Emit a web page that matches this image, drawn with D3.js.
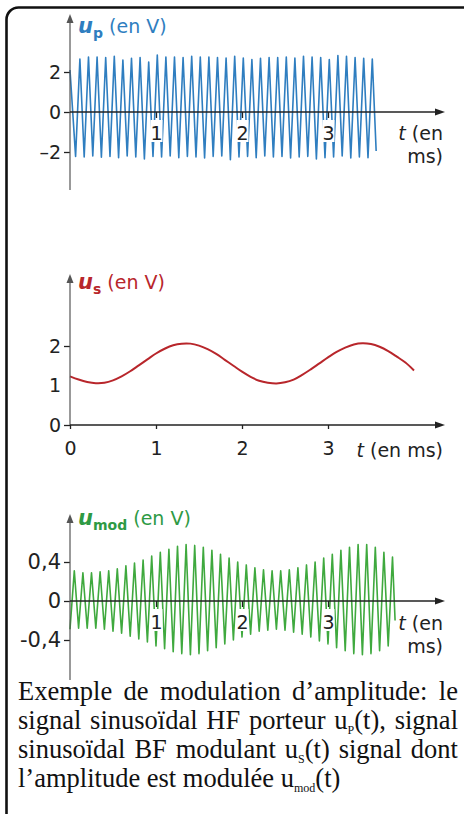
<!DOCTYPE html>
<html>
<head>
<meta charset="utf-8">
<script src="https://cdn.jsdelivr.net/npm/d3@7"></script>
<style>
    body { margin: 0; background: #fff; }
    svg { display: block; }
</style>
</head>
<body>
<svg id="chart" width="464" height="814"></svg>
<script>
/**
 * Tick values on the shared time axis (ms)
 */
const timeTicks = [1, 2, 3];
const timeTicksWithZero = [0, 1, 2, 3];

/**
 * y ticks for each panel
 */
const upTicks = [-2, 0, 2];
const usTicks = [0, 1, 2];
const modTicks = [-0.4, 0, 0.4];

/**
 * u_p : HF carrier, zigzag vertices (t in ms, V)
 */
const upTimes = [0,
    0.065, 0.115, 0.165, 0.215, 0.265, 0.315, 0.365, 0.415, 0.465, 0.515,
    0.565, 0.615, 0.665, 0.715, 0.765, 0.815, 0.865, 0.915, 0.965, 1.015,
    1.065, 1.115, 1.165, 1.215, 1.265, 1.315, 1.365, 1.415, 1.465, 1.515,
    1.565, 1.615, 1.665, 1.715, 1.765, 1.815, 1.865, 1.915, 1.965, 2.015,
    2.065, 2.115, 2.165, 2.215, 2.265, 2.315, 2.365, 2.415, 2.465, 2.515,
    2.565, 2.615, 2.665, 2.715, 2.765, 2.815, 2.865, 2.915, 2.965, 3.015,
    3.065, 3.115, 3.165, 3.215, 3.265, 3.315, 3.365, 3.415, 3.465, 3.515,
    3.56];
const upValues = [2.1,
    -2.22, 2.65, -2.25, 2.75, -2.2, 2.75, -2.26, 2.72, -2.22, 2.78,
    -2.28, 2.6, -2.2, 2.68, -2.25, 2.72, -2.35, 2.5, -2.22, 2.85,
    -2.25, 2.75, -2.2, 2.75, -2.28, 2.72, -2.22, 2.78, -2.25, 2.75,
    -2.3, 2.75, -2.22, 2.72, -2.2, 2.7, -2.38, 2.78, -2.25, 2.7,
    -2.22, 2.62, -2.28, 2.68, -2.2, 2.72, -2.25, 2.72, -2.22, 2.75,
    -2.3, 2.7, -2.25, 2.78, -2.22, 2.75, -2.35, 2.72, -2.28, 2.62,
    -2.25, 2.82, -2.2, 2.78, -2.3, 2.72, -2.25, 2.68, -2.28, 2.65,
    -1.95];

/**
 * u_s : BF modulating signal, sampled every 0.1 ms
 */
const usTimes = [0, 0.1, 0.2, 0.3, 0.4, 0.5, 0.6, 0.7, 0.8, 0.9,
    1, 1.1, 1.2, 1.3, 1.4, 1.5, 1.6, 1.7, 1.8, 1.9,
    2, 2.1, 2.2, 2.3, 2.4, 2.5, 2.6, 2.7, 2.8, 2.9,
    3, 3.1, 3.2, 3.3, 3.4, 3.5, 3.6, 3.7, 3.8, 3.9, 4];
const usValues = [1.23, 1.15, 1.09, 1.06, 1.07, 1.13, 1.23, 1.36, 1.51, 1.66,
    1.81, 1.93, 2.02, 2.06, 2.06, 2.01, 1.92, 1.80, 1.65, 1.50,
    1.35, 1.22, 1.12, 1.07, 1.05, 1.08, 1.15, 1.27, 1.41, 1.56,
    1.71, 1.85, 1.96, 2.04, 2.07, 2.05, 1.98, 1.87, 1.73, 1.58, 1.38];

/**
 * u_mod : amplitude modulated signal, zigzag vertices
 */
const modTimes = [0, 0.05, 0.1, 0.15, 0.2, 0.25, 0.3, 0.35, 0.4, 0.45,
    0.5, 0.55, 0.6, 0.65, 0.7, 0.75, 0.8, 0.85, 0.9, 0.95,
    1, 1.05, 1.1, 1.15, 1.2, 1.25, 1.3, 1.35, 1.4, 1.45,
    1.5, 1.55, 1.6, 1.65, 1.7, 1.75, 1.8, 1.85, 1.9, 1.95,
    2, 2.05, 2.1, 2.15, 2.2, 2.25, 2.3, 2.35, 2.4, 2.45,
    2.5, 2.55, 2.6, 2.65, 2.7, 2.75, 2.8, 2.85, 2.9, 2.95,
    3, 3.05, 3.1, 3.15, 3.2, 3.25, 3.3, 3.35, 3.4, 3.45,
    3.5, 3.55, 3.6, 3.65, 3.7, 3.75, 3.78];
const modValues = [-0.29,
    0.31, -0.28, 0.29, -0.28, 0.29, -0.28, 0.30, -0.29, 0.31, -0.31,
    0.33, -0.33, 0.36, -0.36, 0.39, -0.39, 0.42, -0.42, 0.46, -0.46,
    0.50, -0.49, 0.53, -0.52, 0.56, -0.54, 0.58, -0.55, 0.57, -0.54,
    0.55, -0.51, 0.52, -0.48, 0.48, -0.44, 0.44, -0.40, 0.40, -0.37,
    0.37, -0.34, 0.34, -0.31, 0.32, -0.30, 0.31, -0.29, 0.31, -0.30,
    0.32, -0.32, 0.34, -0.34, 0.37, -0.37, 0.40, -0.41, 0.44, -0.44,
    0.48, -0.48, 0.52, -0.51, 0.55, -0.54, 0.58, -0.55, 0.58, -0.54,
    0.55, -0.51, 0.50, -0.46, 0.45,
    -0.2];

const sans = '"DejaVu Sans", sans-serif';
const serif = '"Liberation Serif", "Times New Roman", serif';
const ink = '#222';

const svg = d3.select('#chart');

// time scale shared by the three panels
const x = d3.scaleLinear().domain([0, 1]).range([70, 156]);
const xEnd = 445;

// frame
svg.append('rect')
    .attr('x', 6.5).attr('y', 7.5)
    .attr('width', 490).attr('height', 850)
    .attr('rx', 12)
    .attr('fill', '#fff')
    .attr('stroke', '#111')
    .attr('stroke-width', 2.6);

function arrowUp(g, tx, ty, col) {
    g.append('path')
        .attr('d', `M${tx},${ty} L${tx - 3.5},${ty + 9} L${tx + 3.5},${ty + 9} Z`)
        .attr('fill', col);
}
function arrowRight(g, tx, ty, col) {
    g.append('path')
        .attr('d', `M${tx},${ty} L${tx - 10},${ty - 3.5} L${tx - 10},${ty + 3.5} Z`)
        .attr('fill', col);
}

function drawPanel(opt) {
    const g = svg.append('g');
    const y = d3.scaleLinear().domain(opt.yDomain).range(opt.yRange);
    const y0 = y(0);

    // signal
    const line = d3.line()
        .x((d, i) => x(opt.times[i]))
        .y((d) => y(d))
        .curve(opt.curve || d3.curveLinear);
    g.append('path')
        .datum(opt.values)
        .attr('d', line)
        .attr('fill', 'none')
        .attr('stroke', opt.color)
        .attr('stroke-width', opt.width)
        .attr('stroke-linejoin', 'round');

    // time axis ticks and labels
    const xa = g.append('g')
        .attr('transform', `translate(0,${y0})`)
        .call(d3.axisBottom(x)
            .tickValues(opt.xTicks)
            .tickSize(opt.xTickSize)
            .tickPadding(opt.xPad)
            .tickFormat(d3.format('d')));
    xa.select('.domain').remove();
    xa.selectAll('line').attr('stroke', ink).attr('stroke-width', 1.3);
    if (opt.knockout) {
        xa.selectAll('.tick').insert('rect', 'text')
            .attr('x', -6).attr('y', opt.xTickSize + 2)
            .attr('width', 12).attr('height', 22)
            .attr('fill', '#fff');
    }
    xa.selectAll('text')
        .attr('font-family', sans).attr('font-size', 19).attr('fill', ink);

    // value axis ticks and labels
    const ya = g.append('g')
        .attr('transform', `translate(${x(0)},0)`)
        .call(d3.axisLeft(y)
            .tickValues(opt.yTicks)
            .tickSize(6)
            .tickPadding(3)
            .tickFormat(opt.yFormat));
    ya.select('.domain').remove();
    ya.selectAll('line').attr('stroke', ink).attr('stroke-width', 1.3);
    ya.selectAll('.tick').filter((d) => opt.noTick && opt.noTick.includes(d))
        .select('line').remove();
    ya.selectAll('text')
        .attr('font-family', sans).attr('font-size', opt.yFont || 19).attr('fill', ink);

    // axis lines with arrows
    g.append('line')
        .attr('x1', x(0)).attr('x2', x(0))
        .attr('y1', opt.yAxisBottom).attr('y2', opt.yAxisTop + 6)
        .attr('stroke', opt.yAxisColor).attr('stroke-width', 1.2);
    arrowUp(g, x(0), opt.yAxisTop, opt.yAxisColor);
    g.append('line')
        .attr('x1', x(0)).attr('x2', xEnd - 6)
        .attr('y1', y0).attr('y2', y0)
        .attr('stroke', ink).attr('stroke-width', 1.4);
    arrowRight(g, xEnd, y0, ink);

    // quantity label
    const lab = g.append('text')
        .attr('x', 78).attr('y', opt.labelY)
        .attr('font-family', sans).attr('font-size', 19)
        .attr('fill', opt.labelColor);
    lab.append('tspan').attr('font-style', 'italic').attr('font-weight', 'bold')
        .attr('font-size', 21).text('u');
    lab.append('tspan').attr('font-weight', 'bold').attr('font-size', 14).attr('dy', 5).text(opt.sub);
    lab.append('tspan').attr('dy', -5).text(' (en V)');

    // time label
    opt.tLabel.forEach((row, i) => {
        const t = g.append('text')
            .attr('x', 443).attr('y', opt.tLabelY[i])
            .attr('text-anchor', 'end')
            .attr('font-family', sans).attr('font-size', 19).attr('fill', ink);
        if (row.startsWith('t')) {
            t.append('tspan').attr('font-style', 'italic').text('t');
            t.append('tspan').text(row.slice(1));
        } else {
            t.text(row);
        }
    });
}

// u_p panel
drawPanel({
    times: upTimes, values: upValues,
    yDomain: [0, 2], yRange: [112, 72],
    yTicks: upTicks, yFormat: (d) => (d < 0 ? '–' + Math.abs(d) : d),
    xTicks: timeTicks, xTickSize: 6, xPad: 9, knockout: true,
    yAxisTop: 14, yAxisBottom: 190, yAxisColor: '#555',
    color: '#2f7ec0', width: 1.6,
    sub: 'p', labelY: 33, labelColor: '#2f7ec0',
    tLabel: ['t (en', 'ms)'], tLabelY: [140, 163],
});

// u_s panel
drawPanel({
    times: usTimes, values: usValues,
    yDomain: [0, 2], yRange: [425, 346],
    yTicks: usTicks, yFormat: d3.format('d'), noTick: [1],
    xTicks: timeTicksWithZero, xTickSize: 4, xPad: 13, knockout: false,
    yAxisTop: 274, yAxisBottom: 425, yAxisColor: '#555',
    color: '#b8262b', width: 2, curve: d3.curveCatmullRom,
    sub: 's', labelY: 289, labelColor: '#b8262b',
    tLabel: ['t (en ms)'], tLabelY: [457],
});

// u_mod panel
drawPanel({
    times: modTimes, values: modValues,
    yDomain: [0, 0.4], yRange: [601, 562],
    yTicks: modTicks, yFont: 21,
    yFormat: (d) => (d < 0 ? '-' : '') + String(Math.abs(d)).replace('.', ','),
    xTicks: timeTicks, xTickSize: 6, xPad: 9, knockout: true,
    yAxisTop: 514, yAxisBottom: 680, yAxisColor: '#555',
    color: '#3fa93e', width: 1.6,
    sub: 'mod', labelY: 525, labelColor: '#2e9a44',
    tLabel: ['t (en', 'ms)'], tLabelY: [630, 653],
});

// caption (first three lines justified to the box width)
const caption = [
    [['Exemple de modulation d’amplitude: le']],
    [['signal sinusoïdal HF porteur u'], ['P', 'sub'], ['(t), signal']],
    [['sinusoïdal BF modulant u'], ['S', 'sub'], ['(t) signal dont']],
    [['l’amplitude est modulée u'], ['mod', 'sub'], ['(t)']],
];
const capY = [700, 729, 758, 787];
const capLeft = 18;
const capWidth = 440;
caption.forEach((parts, i) => {
    const t = svg.append('text')
        .attr('x', capLeft).attr('y', capY[i])
        .attr('font-family', serif).attr('font-size', 26.5).attr('fill', '#111');
    let shifted = false;
    parts.forEach(([s, kind]) => {
        const sp = t.append('tspan').text(s);
        if (kind === 'sub') {
            sp.attr('font-size', 12).attr('dy', 5);
            shifted = true;
        } else if (shifted) {
            sp.attr('dy', -5);
            shifted = false;
        }
    });
    if (i < caption.length - 1) {
        const len = t.node().getComputedTextLength();
        const spaces = parts.map((p) => p[0]).join('').split(' ').length - 1;
        if (spaces > 0 && len < capWidth) {
            t.attr('word-spacing', (capWidth - len) / spaces);
        }
    }
});
</script>
</body>
</html>
